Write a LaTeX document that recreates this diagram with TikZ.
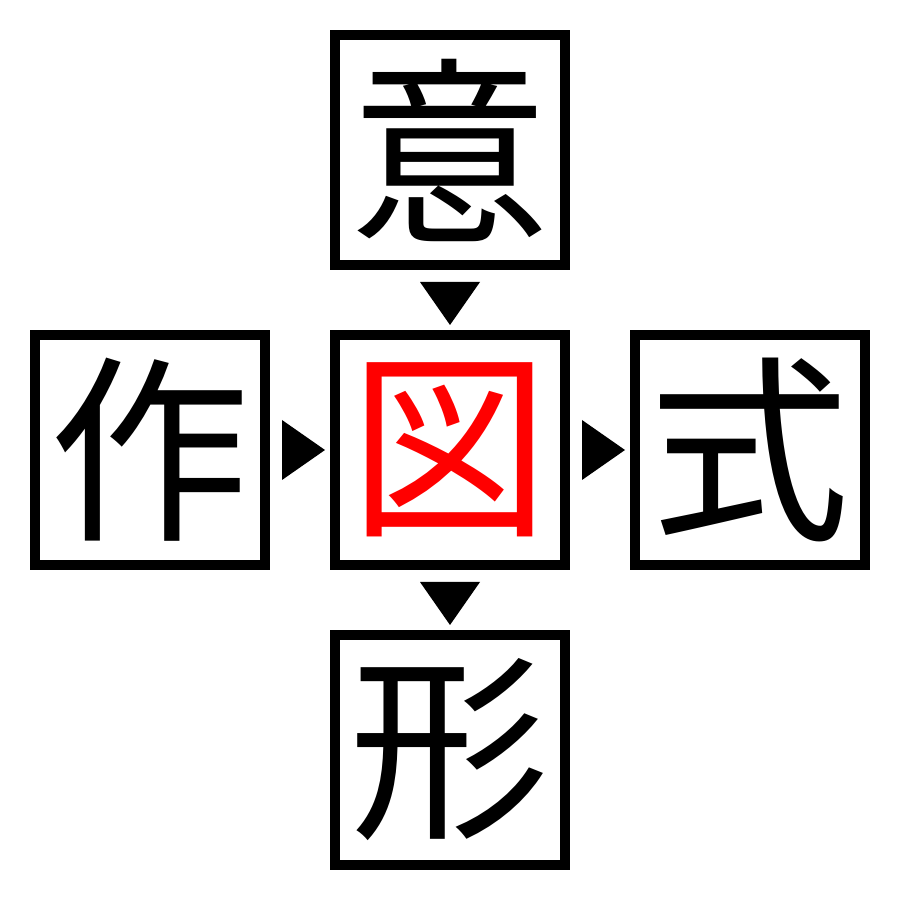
\documentclass[tikz,border=0pt]{standalone}
\usepackage{fontspec}
\newfontfamily\cjk{Noto Sans CJK JP}
\usetikzlibrary{calc}
\tikzset{
  kanji/.style={draw=black, line width=1mm, minimum size=2.3cm, inner sep=0pt,
    font=\cjk\fontsize{57}{57}\selectfont},
  tri/.style={fill=black}
}
\begin{document}
\begin{tikzpicture}
\useasboundingbox (0,0) rectangle (9,9);
\node[kanji] (top) at (4.5,7.5) {意};
\node[kanji, text=red] (mid) at (4.5,4.5) {図};
\node[kanji] (left) at (1.5,4.5) {作};
\node[kanji] (right) at (7.5,4.5) {式};
\node[kanji] (bottom) at (4.5,1.5) {形};
\fill[tri] ($(top.south)+(-0.3,-0.12)$) -- ($(top.south)+(0.3,-0.12)$) -- ($(top.south)+(0,-0.55)$) -- cycle;
\fill[tri] ($(mid.south)+(-0.3,-0.12)$) -- ($(mid.south)+(0.3,-0.12)$) -- ($(mid.south)+(0,-0.55)$) -- cycle;
\fill[tri] ($(left.east)+(0.12,0.3)$) -- ($(left.east)+(0.12,-0.3)$) -- ($(left.east)+(0.55,0)$) -- cycle;
\fill[tri] ($(mid.east)+(0.12,0.3)$) -- ($(mid.east)+(0.12,-0.3)$) -- ($(mid.east)+(0.55,0)$) -- cycle;
\end{tikzpicture}
\end{document}
